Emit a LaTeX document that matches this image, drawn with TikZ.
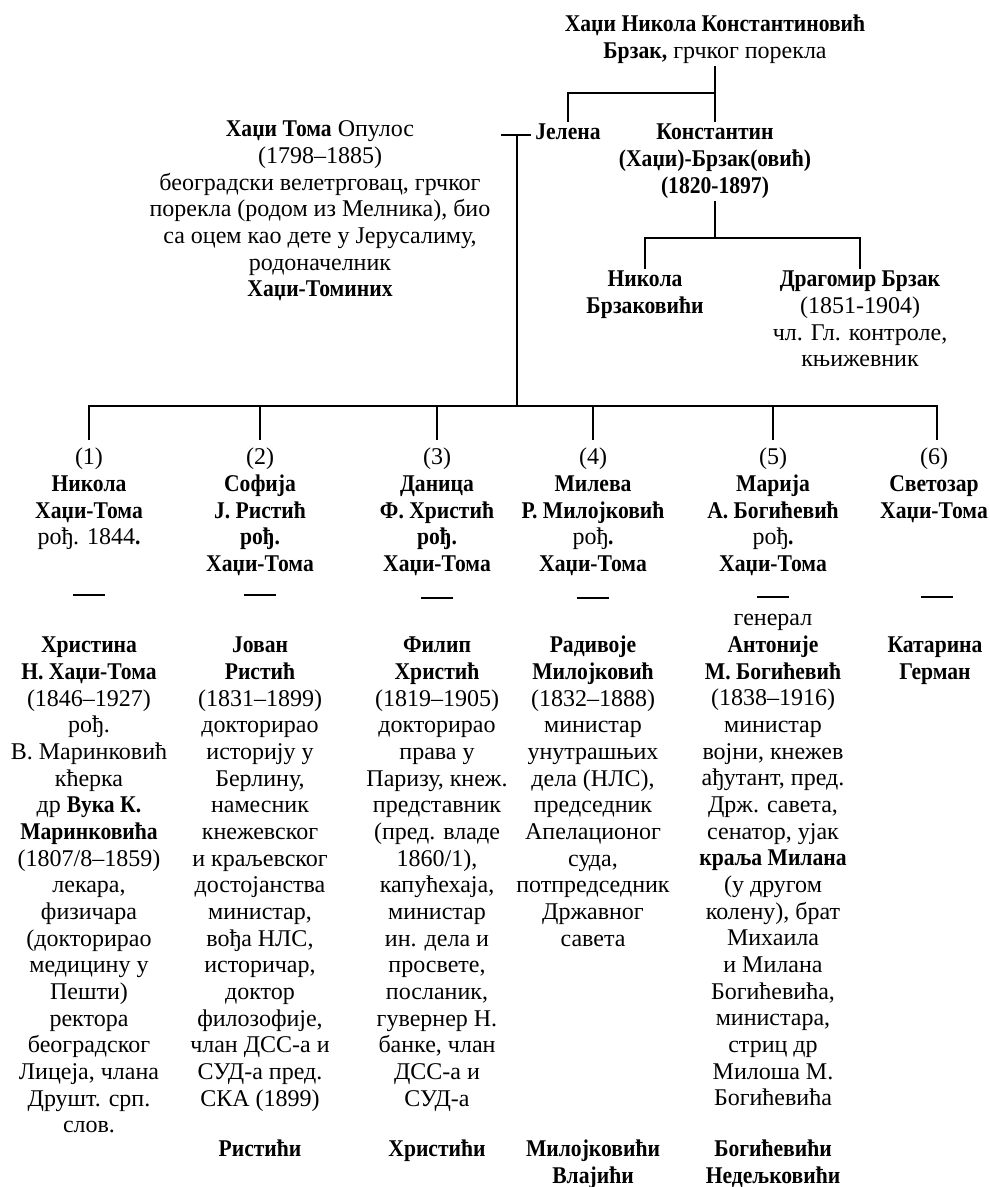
\documentclass[tikz,border=0pt]{standalone}
\usepackage{fontspec}
\setmainfont{Liberation Serif}[BoldFeatures={FakeStretch=0.9}]
\newcommand\pfont{\fontsize{24}{26.67}\selectfont}
\begin{document}
\begin{tikzpicture}[x=1pt,y=-1pt,
  person/.style={align=center, inner sep=0pt, anchor=north, font=\pfont},
  link/.style={line width=1.1pt, line cap=rect},
  rulebar/.style={line width=1.1pt}]
\useasboundingbox (0,0) rectangle (989,1187);

% top generation
\node[person] (root) at (715,13) {\strut\textbf{Хаџи Никола Константиновић}\\\textbf{Брзак,} грчког порекла\strut};
\node[person] (jelena) at (568,121) {\strut\textbf{Јелена}};
\node[person] (konst) at (715,121) {\strut\textbf{Константин}\\\textbf{(Хаџи)-Брзак(овић)}\\\textbf{(1820-1897)}\strut};
\node[person] (toma) at (320,118) {\strut\textbf{Хаџи Тома} Опулос\\(1798–1885)\\београдски велетрговац, грчког\\порекла (родом из Мелника), био\\са оцем као дете у Јерусалиму,\\родоначелник\\\textbf{Хаџи-Томиних}};

\coordinate (rootbar) at (715,93);
\draw[link] (root.south) -- (konst.north);
\draw[link] (rootbar) -| (jelena.north);

% Brzak branch
\node[person] (nikb) at (645,268) {\strut\textbf{Никола}\\\textbf{Брзаковићи}};
\node[person] (drag) at (860,268) {\strut\textbf{Драгомир Брзак}\\(1851-1904)\\чл. Гл. контроле,\\књижевник};
\coordinate (konstbar) at (715,238);
\draw[link] (konst.south) -- (konstbar);
\draw[link] (nikb.north) |- (konstbar) -| (drag.north);

% marriage Toma - Jelena
\coordinate (mstub) at (502,135);
\coordinate (mid) at (517,135);
\coordinate (kidsbar) at (517,406);
\draw[link] (mstub) -- ([xshift=-5pt]jelena.west |- mid);
\draw[link] (mid) -- (kidsbar);

% children
\node[person] (c1) at (89,446) {\strut(1)\\\textbf{Никола}\\\textbf{Хаџи-Тома}\\рођ. 1844\textbf{.}};
\node[person] (c2) at (260,446) {\strut(2)\\\textbf{Софија}\\\textbf{Ј. Ристић}\\\textbf{рођ.}\\\textbf{Хаџи-Тома}};
\node[person] (c3) at (437,446) {\strut(3)\\\textbf{Даница}\\\textbf{Ф. Христић}\\\textbf{рођ.}\\\textbf{Хаџи-Тома}};
\node[person] (c4) at (593,446) {\strut(4)\\\textbf{Милева}\\\textbf{Р. Милојковић}\\рођ\textbf{.}\\\textbf{Хаџи-Тома}};
\node[person] (c5) at (773,446) {\strut(5)\\\textbf{Марија}\\\textbf{А. Богићевић}\\рођ\textbf{.}\\\textbf{Хаџи-Тома}};
\node[person] (c6) at (934,446) {\strut(6)\\\textbf{Светозар}\\\textbf{Хаџи-Тома}};

\foreach \c in {c1,c2,c3,c4,c5}{
  \draw[link] ([yshift=7pt]\c.north) |- (kidsbar);
}
\draw[link] ([xshift=3pt,yshift=7pt]c6.north) |- (kidsbar);

% short rules
\draw[rulebar] (c1.north |- 0,595) ++(-16,0) -- ++(32,0);
\draw[rulebar] (c2.north |- 0,595) ++(-16,0) -- ++(32,0);
\draw[rulebar] (c3.north |- 0,598) ++(-16,0) -- ++(32,0);
\draw[rulebar] (c4.north |- 0,598) ++(-16,0) -- ++(32,0);
\draw[rulebar] (c5.north |- 0,597) ++(-16,0) -- ++(32,0);
\draw[rulebar] (c6.north |- 0,597) ++(-13,0) -- ++(32,0);

% spouses
\node[person] (s1) at (89,634) {\strut\textbf{Христина}\\\textbf{Н. Хаџи-Тома}\\(1846–1927)\\рођ.\\В. Маринковић\\кћерка\\др \textbf{Вука К.}\\\textbf{Маринковића}\\(1807/8–1859)\\лекара,\\физичара\\(докторирао\\медицину у\\Пешти)\\ректора\\београдског\\Лицеја, члана\\Друшт. срп.\\слов.};
\node[person] (s2) at (260,634) {\strut\textbf{Јован}\\\textbf{Ристић}\\(1831–1899)\\докторирао\\историју у\\Берлину,\\намесник\\кнежевског\\и краљевског\\достојанства\\министар,\\вођа НЛС,\\историчар,\\доктор\\филозофије,\\члан ДСС-а и\\СУД-а пред.\\СКА (1899)};
\node[person] (s3) at (437,634) {\strut\textbf{Филип}\\\textbf{Христић}\\(1819–1905)\\докторирао\\права у\\Паризу, кнеж.\\представник\\(пред. владе\\1860/1),\\капућехаја,\\министар\\ин. дела и\\просвете,\\посланик,\\гувернер Н.\\банке, члан\\ДСС-а и\\СУД-а};
\node[person] (s4) at (593,634) {\strut\textbf{Радивоје}\\\textbf{Милојковић}\\(1832–1888)\\министар\\унутрашњих\\дела (НЛС),\\председник\\Апелационог\\суда,\\потпредседник\\Државног\\савета};
\node[person] (s5) at (773,607) {\strut генерал\\\textbf{Антоније}\\\textbf{М. Богићевић}\\(1838–1916)\\министар\\војни, кнежев\\ађутант, пред.\\Држ. савета,\\сенатор, ујак\\\textbf{краља Милана}\\(у другом\\колену), брат\\Михаила\\и Милана\\Богићевића,\\министара,\\стриц др\\Милоша М.\\Богићевића};
\node[person] (s6) at (935,634) {\strut\textbf{Катарина}\\\textbf{Герман}};

% family names
\node[person] (f2) at (260,1138) {\strut\textbf{Ристићи}};
\node[person] (f3) at (437,1138) {\strut\textbf{Христићи}};
\node[person] (f4) at (593,1138) {\strut\textbf{Милојковићи}\\\textbf{Влајићи}};
\node[person] (f5) at (773,1138) {\strut\textbf{Богићевићи}\\\textbf{Недељковићи}};
\end{tikzpicture}
\end{document}
